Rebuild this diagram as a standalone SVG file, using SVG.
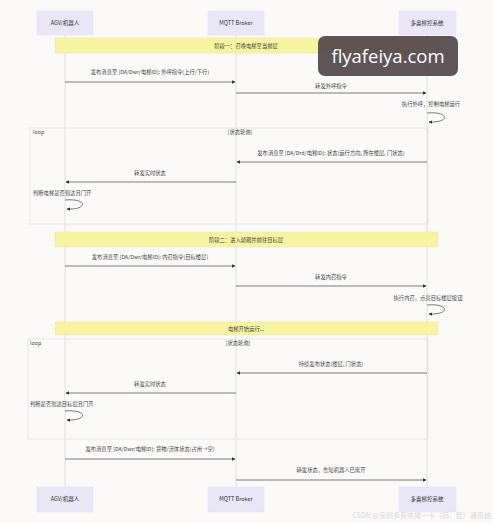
<svg xmlns="http://www.w3.org/2000/svg" width="493" height="523" viewBox="0 0 493 523">
<defs>
<marker id="ah" viewBox="0 0 10 10" refX="9" refY="5" markerWidth="5" markerHeight="5" orient="auto-start-reverse"><path d="M0,0 L10,5 L0,10 z" fill="#333"/></marker>
<style>
text{font-family:"Noto Sans CJK SC","Liberation Sans",sans-serif;fill:#333;}
.pbox{fill:#e9e7f7;stroke:#e2e0f2;stroke-width:0.5;}
.ptxt{font-size:5.5px;text-anchor:middle;}
.life{stroke:#d8d8d8;stroke-width:0.8;}
.msg{stroke:#444;stroke-width:0.7;fill:none;}
.mtxt{font-size:5.3px;text-anchor:middle;fill:#444;}
.ltxt{font-size:5.3px;fill:#444;}
.note{fill:#f8f3a0;stroke:#ece7a0;stroke-width:0.5;}
.loop{fill:none;stroke:#e2e2e2;stroke-width:0.8;}
</style>
</defs>
<rect width="493" height="523" fill="#fbfaf9"/>
<g id="lifelines">
<line class="life" x1="65" y1="35" x2="65" y2="487"/>
<line class="life" x1="236" y1="35" x2="236" y2="487"/>
<line class="life" x1="427" y1="35" x2="427" y2="487"/>
</g>
<g id="participant-agv"><rect class="pbox" x="37" y="11" width="56" height="24"/><text class="ptxt" x="65" y="25">AGV/机器人</text></g>
<g id="participant-mqtt"><rect class="pbox" x="208" y="11" width="56" height="24"/><text class="ptxt" x="236" y="25">MQTT Broker</text></g>
<g id="participant-ctrl"><rect class="pbox" x="399" y="11" width="57" height="24"/><text class="ptxt" x="427" y="25">多奥梯控系统</text></g>
<g id="participant-agv-bottom"><rect class="pbox" x="37" y="487" width="56" height="25"/><text class="ptxt" x="65" y="501">AGV/机器人</text></g>
<g id="participant-mqtt-bottom"><rect class="pbox" x="208" y="487" width="56" height="25"/><text class="ptxt" x="236" y="501">MQTT Broker</text></g>
<g id="participant-ctrl-bottom"><rect class="pbox" x="399" y="487" width="57" height="25"/><text class="ptxt" x="427" y="501">多奥梯控系统</text></g>
<g id="note-phase1"><rect class="note" x="55" y="38" width="383" height="15"/><text class="mtxt" x="246" y="47.5">阶段一：召唤电梯至当前层</text></g>
<g id="loop1"><rect class="loop" x="30" y="128" width="398" height="96"/><text class="ltxt" x="33" y="134">loop</text><text class="mtxt" x="240" y="134">[状态轮询]</text></g>
<g id="note-phase2"><rect class="note" x="55" y="232" width="383" height="15"/><text class="mtxt" x="246" y="241.5">阶段二：进入轿厢并前往目标层</text></g>
<g id="note-run"><rect class="note" x="55" y="322" width="383" height="13"/><text class="mtxt" x="246" y="330.5">电梯开始运行...</text></g>
<g id="loop2"><rect class="loop" x="28" y="339" width="400" height="100"/><text class="ltxt" x="30" y="345">loop</text><text class="mtxt" x="238" y="345">[状态轮询]</text></g>
<g id="connectors">
<text class="mtxt" x="150" y="74">发布消息至 [DA/Dwr/电梯ID]: 外呼指令(上行/下行)</text>
<line class="msg" x1="65" y1="82" x2="235" y2="82" marker-end="url(#ah)"/>
<text class="mtxt" x="331" y="87.5">转发外呼指令</text>
<line class="msg" x1="236" y1="93" x2="426" y2="93" marker-end="url(#ah)"/>
<text class="mtxt" x="431" y="106">执行外呼，控制电梯运行</text>
<path class="msg" d="M427,113 C450,111 450,123 429,122" marker-end="url(#ah)"/>
<text class="mtxt" x="331" y="155">发布消息至 [DA/Drd/电梯ID]: 状态(运行方向, 所在楼层, 门状态)</text>
<line class="msg" x1="427" y1="162" x2="237" y2="162" marker-end="url(#ah)"/>
<text class="mtxt" x="150" y="175">转发实时状态</text>
<line class="msg" x1="236" y1="182" x2="66" y2="182" marker-end="url(#ah)"/>
<text class="ltxt" x="33" y="195">判断电梯是否到达且门开</text>
<path class="msg" d="M65,200 C88,198 88,210 67,209" marker-end="url(#ah)"/>
<text class="mtxt" x="150" y="259">发布消息至 [DA/Dwr/电梯ID]: 内召指令(目标楼层)</text>
<line class="msg" x1="65" y1="266" x2="235" y2="266" marker-end="url(#ah)"/>
<text class="mtxt" x="331" y="279">转发内召指令</text>
<line class="msg" x1="236" y1="286" x2="426" y2="286" marker-end="url(#ah)"/>
<text class="mtxt" x="428" y="300">执行内召，点亮目标楼层按钮</text>
<path class="msg" d="M427,305 C450,303 450,315 429,314" marker-end="url(#ah)"/>
<text class="mtxt" x="331" y="366">持续发布状态(楼层, 门状态)</text>
<line class="msg" x1="427" y1="373" x2="237" y2="373" marker-end="url(#ah)"/>
<text class="mtxt" x="150" y="386">转发实时状态</text>
<line class="msg" x1="236" y1="393" x2="66" y2="393" marker-end="url(#ah)"/>
<text class="ltxt" x="30" y="406">判断是否到达目标层且门开</text>
<path class="msg" d="M65,411 C88,409 88,421 67,420" marker-end="url(#ah)"/>
<text class="mtxt" x="150" y="451">发布消息至 [DA/Dwr/电梯ID]: 货物/活体状态(占用→空)</text>
<line class="msg" x1="65" y1="459" x2="235" y2="459" marker-end="url(#ah)"/>
<text class="mtxt" x="331" y="472">转发状态，告知机器人已离开</text>
<line class="msg" x1="236" y1="480" x2="426" y2="480" marker-end="url(#ah)"/>
</g>
<g id="watermark">
<rect x="318" y="36" width="140" height="40" rx="7" fill="#4e4347" fill-opacity="0.9"/>
<text x="388" y="63" font-size="18.5" text-anchor="middle" style="fill:#ffffff;font-family:'Open Sans','Liberation Sans',sans-serif;">flyafeiya.com</text>
<text x="491" y="518" font-size="7" text-anchor="end" style="fill:#d9d9d9;">CSDN @深圳多奥电梯一卡（码、脸）通系统</text>
</g>
</svg>
